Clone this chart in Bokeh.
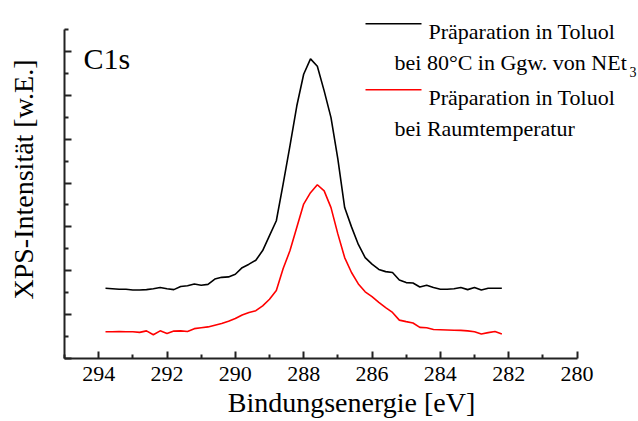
from bokeh.plotting import figure
from bokeh.models import Range1d, FixedTicker, Label
from bokeh.embed import file_html
from bokeh.resources import INLINE

# ---------------- data ----------------
energy_black = [293.8, 293.6, 293.4, 293.2, 293.0, 292.8, 292.6, 292.4, 292.2, 292.0,
                291.8, 291.6, 291.4, 291.2, 291.0, 290.8, 290.6, 290.4, 290.2, 290.0,
                289.8, 289.6, 289.4, 289.2, 289.0, 288.8, 288.6, 288.4, 288.2, 288.0,
                287.8, 287.6, 287.4, 287.2, 287.0, 286.8, 286.6, 286.4, 286.2, 286.0,
                285.8, 285.6, 285.4, 285.2, 285.0, 284.8, 284.6, 284.4, 284.2, 284.0,
                283.8, 283.6, 283.4, 283.2, 283.0, 282.8, 282.6, 282.4, 282.2]
intensity_black = [1.60, 1.59, 1.58, 1.58, 1.56, 1.56, 1.57, 1.59, 1.62, 1.59,
                   1.57, 1.64, 1.66, 1.70, 1.67, 1.69, 1.81, 1.85, 1.86, 1.92,
                   2.07, 2.15, 2.24, 2.46, 2.80, 3.14, 3.98, 4.85, 5.76, 6.48,
                   6.83, 6.66, 6.10, 5.49, 4.55, 3.44, 3.00, 2.60, 2.30, 2.15,
                   2.03, 1.98, 1.96, 1.79, 1.73, 1.72, 1.63, 1.67, 1.62, 1.58,
                   1.58, 1.59, 1.62, 1.57, 1.62, 1.56, 1.60, 1.60, 1.60]

energy_red = [293.8, 293.6, 293.4, 293.2, 293.0, 292.8, 292.6, 292.4, 292.2, 292.0,
              291.8, 291.6, 291.4, 291.2, 291.0, 290.8, 290.6, 290.4, 290.2, 290.0,
              289.8, 289.6, 289.4, 289.2, 289.0, 288.8, 288.6, 288.4, 288.2, 288.0,
              287.8, 287.6, 287.4, 287.2, 287.0, 286.8, 286.6, 286.4, 286.2, 286.0,
              285.8, 285.6, 285.4, 285.2, 285.0, 284.8, 284.6, 284.4, 284.2, 284.0,
              283.8, 283.6, 283.4, 283.2, 283.0, 282.8, 282.6, 282.4, 282.2]
intensity_red = [0.61, 0.61, 0.615, 0.61, 0.61, 0.595, 0.63, 0.54, 0.63, 0.57,
                 0.625, 0.63, 0.615, 0.68, 0.70, 0.72, 0.76, 0.80, 0.85, 0.91,
                 0.99, 1.05, 1.09, 1.20, 1.35, 1.55, 2.05, 2.46, 2.99, 3.52,
                 3.78, 3.96, 3.82, 3.44, 2.84, 2.30, 1.96, 1.70, 1.52, 1.41,
                 1.28, 1.16, 1.05, 0.875, 0.84, 0.81, 0.71, 0.70, 0.66, 0.655,
                 0.65, 0.645, 0.64, 0.63, 0.61, 0.56, 0.59, 0.615, 0.56]

x_ticks = [294, 292, 290, 288, 286, 284, 282, 280]
x_minor_ticks = [295, 293, 291, 289, 287, 285, 283, 281]
y_ticks = [0, 1, 2, 3, 4, 5, 6, 7]
y_minor_ticks = [0.5, 1.5, 2.5, 3.5, 4.5, 5.5, 6.5, 7.5]

legend_black_1 = "Präparation in Toluol"
legend_black_2 = "bei 80°C in Ggw. von NEt"
legend_black_sub = "3"
legend_red_1 = "Präparation in Toluol"
legend_red_2 = "bei Raumtemperatur"
panel_label = "C1s"
x_label = "Bindungsenergie [eV]"
y_label = "XPS-Intensität [w.E.]"

# ---------------- layout ----------------
W, H = 638, 421
BORDER_L, BORDER_B = 64, 63
X0, X1 = 295.0, 278.2
Y0, Y1 = 0.0, 8.16
FRAME_W, FRAME_H = W - BORDER_L, H - BORDER_B
FONT = "Liberation Serif"


def sx(px):
    return X0 + (px - BORDER_L) / FRAME_W * (X1 - X0)


def sy(py):
    return Y0 + (FRAME_H - py) / FRAME_H * (Y1 - Y0)


p = figure(width=W, height=H, output_backend="svg", toolbar_location=None,
           x_range=Range1d(X0, X1), y_range=Range1d(Y0, Y1),
           min_border_left=BORDER_L, min_border_right=0,
           min_border_top=0, min_border_bottom=BORDER_B)
p.outline_line_color = None
p.grid.visible = False
p.background_fill_color = "white"
p.border_fill_color = "white"

p.line(energy_black, intensity_black, line_color="black", line_width=1.6)
p.line(energy_red, intensity_red, line_color="#ff0000", line_width=1.6)

for ax in (p.xaxis[0], p.yaxis[0]):
    ax.axis_line_width = 2
    ax.axis_line_color = "#222222"
    ax.major_tick_line_width = 2
    ax.minor_tick_line_width = 2
    ax.major_tick_line_color = "#222222"
    ax.minor_tick_line_color = "#222222"
    ax.major_tick_in = 7
    ax.major_tick_out = 0
    ax.minor_tick_in = 4
    ax.minor_tick_out = 0
    ax.axis_label_text_font = FONT
    ax.axis_label_text_font_style = "normal"
    ax.axis_label_text_font_size = "28px"
    ax.axis_label_text_color = "black"
    ax.major_label_text_font = FONT
    ax.major_label_text_font_size = "22px"
    ax.major_label_text_color = "black"

p.xaxis.bounds = (280, 295)
p.xaxis.ticker = FixedTicker(ticks=x_ticks, minor_ticks=x_minor_ticks)
p.xaxis.axis_label = x_label
p.xaxis.major_label_standoff = 8
p.xaxis.axis_label_standoff = 3

p.yaxis.bounds = (0, 7.5)
p.yaxis.ticker = FixedTicker(ticks=y_ticks, minor_ticks=y_minor_ticks)
p.yaxis.major_label_overrides = {t: "" for t in y_ticks}
p.yaxis.axis_label = y_label
p.yaxis.axis_label_standoff = 26

# panel label
p.add_layout(Label(x=sx(83), y=sy(57.5), text=panel_label, text_font=FONT,
                   text_color="black", text_font_size="30px",
                   text_baseline="alphabetic", text_align="left"))

# legend
p.line([sx(365), sx(421)], [sy(23.3), sy(23.3)], line_color="black", line_width=1.6)
p.line([sx(365), sx(421)], [sy(89.3), sy(89.3)], line_color="#ff0000", line_width=1.6)
for txt, px, py, size in [(legend_black_1, 428, 30.7, "22px"),
                          (legend_black_2, 394, 61.5, "22px"),
                          (legend_black_sub, 629, 71.5, "14px"),
                          (legend_red_1, 428, 96.7, "22px"),
                          (legend_red_2, 394, 127.5, "22px")]:
    p.add_layout(Label(x=sx(px), y=sy(py), text=txt, text_font=FONT,
                       text_color="black", text_font_size=size,
                       text_baseline="alphabetic", text_align="left"))

open("out.html", "w").write(file_html(p, INLINE))
